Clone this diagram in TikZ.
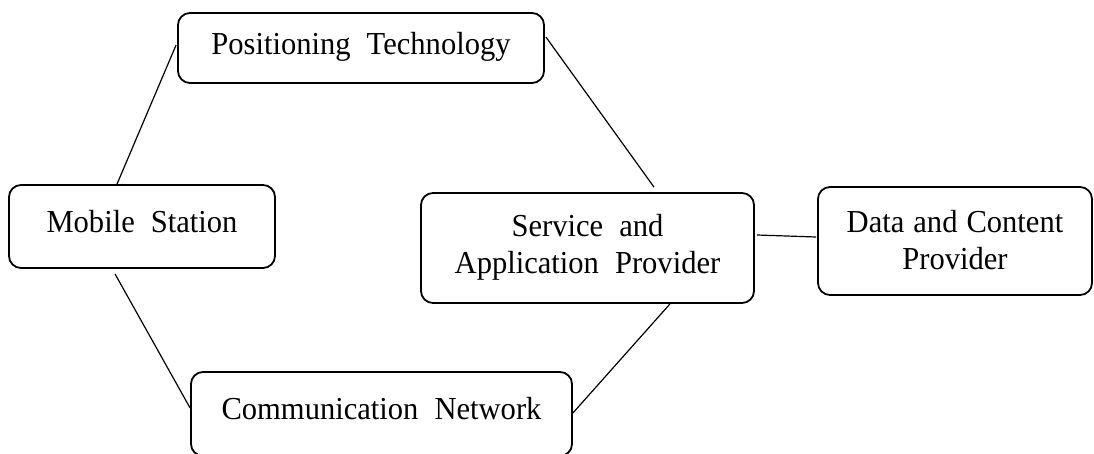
\documentclass[tikz,border=0pt]{standalone}
\usepackage{fontspec}
\setmainfont{Liberation Serif}[FakeStretch=0.955,WordSpace=2.1]
\usetikzlibrary{calc}
\newcommand\mytightsp{\spaceskip=9pt plus 1pt\relax}
\begin{document}
\begin{tikzpicture}[x=1pt,y=1pt,
  box/.style={draw,line width=1.8pt,rounded corners=12pt,inner sep=0pt},
  txt/.style={inner sep=0pt,align=center,font=\fontsize{32}{37}\selectfont},
  conn/.style={line width=1.2pt}]
\useasboundingbox (0,0) rectangle (1094,453);
\node[box,minimum width=366,minimum height=70] (pt) at (361,405) {};
\node[txt] (pttxt) at ($(pt.center)+(0,1)$) {Positioning Technology};
\node[box,minimum width=266,minimum height=83] (mob) at (142,226.5) {};
\node[txt] (mobtxt) at ($(mob.center)+(0,5)$) {Mobile Station};
\node[box,minimum width=333,minimum height=110] (sap) at (587.5,205) {};
\node[txt] (saptxt) at ($(sap.center)+(0,1)$) {Service and\\Application Provider};
\node[box,minimum width=274,minimum height=108] (dcp) at (955,212) {};
\node[txt] (dcptxt) at ($(dcp.center)+(0,1)$) {\mytightsp Data and Content\\\mytightsp Provider};
\node[box,minimum width=381,minimum height=84] (comm) at (381.5,39) {};
\node[txt] (commtxt) at ($(comm.center)+(0,5)$) {Communication Network};
\draw[conn] ($(mob.north)+(-25,0)$) -- ($(pt.west)+(-1,3)$);
\draw[conn] ($(pt.east)+(1,11)$) -- ($(sap.north)+(66.5,5)$);
\draw[conn] ($(sap.east)+(2,13)$) -- ($(dcp.west)+(-1,4)$);
\draw[conn] ($(mob.south)+(-27,-5)$) -- ($(comm.west)+(0,6)$);
\draw[conn] ($(comm.east)+(0,1)$) -- ($(sap.south)+(82.5,0)$);
\end{tikzpicture}
\end{document}
